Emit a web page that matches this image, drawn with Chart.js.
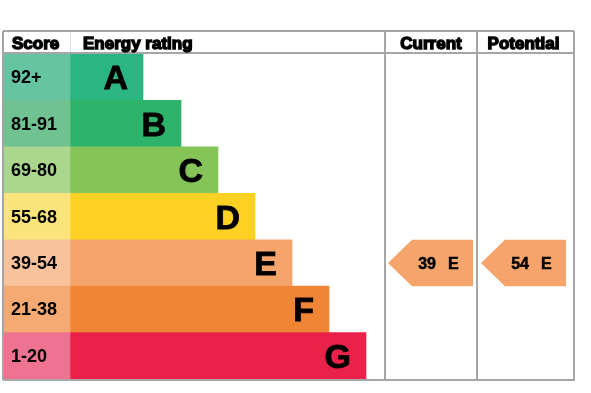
<!DOCTYPE html>
<html lang="en">
<head>
    <meta charset="UTF-8">
    <title>Energy rating</title>
    <script src="https://cdn.jsdelivr.net/npm/chart.js"></script>
    <style>
        body { margin: 0; background: #fff; }
    </style>
</head>
<body>
    <canvas id="epcChart" width="591" height="393"></canvas>

    <script>
        // bands and score ranges
        const bands = ['A', 'B', 'C', 'D', 'E', 'F', 'G'];
        const scoreRanges = ['92+', '81-91', '69-80', '55-68', '39-54', '21-38', '1-20'];
        // length of each band bar (x units)
        const bandEnds = [140, 178, 215, 252, 289, 326, 363];
        const bandColors = ['#2bb582', '#2db36a', '#86c45a', '#fdd123', '#f5a46c', '#ef8535', '#ea2249'];
        const scoreColors = ['#67c4a2', '#70c291', '#aad68e', '#fbe47b', '#f8c29c', '#f5a973', '#ee7390'];

        const currentScore = 39;
        const currentBand = 'E';
        const potentialScore = 54;
        const potentialBand = 'E';

        const FONT = '"Liberation Sans", Arial, sans-serif';
        const SCORE_COL = 67;
        const COLS = { current: [382, 474], potential: [474, 572] };
        const ARROWS = { current: [385, 470], potential: [478, 563] };

        const epcPlugin = {
            id: 'epc',
            afterDatasetsDraw(chart) {
                const ctx = chart.ctx;
                const xs = chart.scales.x, ys = chart.scales.y;
                const area = chart.chartArea;
                const rowH = (area.bottom - area.top) / bands.length;
                const top = 31, bottom = area.bottom + 1;

                ctx.save();
                // band letters and score text
                bands.forEach((b, i) => {
                    const y = ys.getPixelForValue(i);
                    ctx.fillStyle = '#000';
                    ctx.strokeStyle = '#000';
                    ctx.lineWidth = 0.8;
                    ctx.font = 'bold 34px ' + FONT;
                    ctx.textAlign = 'right';
                    ctx.textBaseline = 'alphabetic';
                    const lx = xs.getPixelForValue(bandEnds[i]) - 15;
                    ctx.fillText(b, lx, y + 12);
                    ctx.strokeText(b, lx, y + 12);
                    ctx.font = 'bold 18px ' + FONT;
                    ctx.textAlign = 'left';
                    ctx.fillText(scoreRanges[i], 11, y + 6);
                });

                // arrows
                const drawArrow = (col, score, band) => {
                    const i = bands.indexOf(band);
                    const y = ys.getPixelForValue(i);
                    const left = xs.getPixelForValue(ARROWS[col][0]);
                    const right = xs.getPixelForValue(ARROWS[col][1]);
                    const h = rowH / 2;
                    ctx.fillStyle = bandColors[i];
                    ctx.beginPath();
                    ctx.moveTo(left, y);
                    ctx.lineTo(left + 24, y - h);
                    ctx.lineTo(right, y - h);
                    ctx.lineTo(right, y + h);
                    ctx.lineTo(left + 24, y + h);
                    ctx.closePath();
                    ctx.fill();
                    ctx.fillStyle = '#000';
                    ctx.strokeStyle = '#000';
                    ctx.lineWidth = 0.5;
                    ctx.font = 'bold 16px ' + FONT;
                    ctx.textBaseline = 'alphabetic';
                    ctx.textAlign = 'right';
                    ctx.fillText(String(score), right - 37, y + 6);
                    ctx.strokeText(String(score), right - 37, y + 6);
                    ctx.textAlign = 'left';
                    ctx.fillText(band, right - 25, y + 6);
                    ctx.strokeText(band, right - 25, y + 6);
                };
                drawArrow('current', currentScore, currentBand);
                drawArrow('potential', potentialScore, potentialBand);

                // grid lines
                ctx.strokeStyle = '#a6a6a6';
                ctx.lineWidth = 2;
                const xl = area.left, xr = area.right - 1;
                const xc = xs.getPixelForValue(COLS.current[0]);
                const xp = xs.getPixelForValue(COLS.potential[0]);
                ctx.beginPath();
                ctx.moveTo(xl, top); ctx.lineTo(xr, top);
                ctx.moveTo(xl, area.top - 1); ctx.lineTo(xr, area.top - 1);
                ctx.moveTo(xl, bottom); ctx.lineTo(xr + 1, bottom);
                ctx.moveTo(xl, top); ctx.lineTo(xl, bottom);
                ctx.moveTo(xr, top); ctx.lineTo(xr, bottom);
                ctx.moveTo(xc, top); ctx.lineTo(xc, bottom);
                ctx.moveTo(xp, top); ctx.lineTo(xp, bottom);
                ctx.stroke();
                ctx.strokeStyle = '#dddddd';
                ctx.lineWidth = 1;
                const xs1 = xs.getPixelForValue(SCORE_COL);
                ctx.beginPath();
                ctx.moveTo(xs1 + 0.5, top + 1); ctx.lineTo(xs1 + 0.5, area.top - 2);
                ctx.stroke();

                // header text
                ctx.fillStyle = '#000';
                ctx.strokeStyle = '#000';
                ctx.lineWidth = 1.4;
                ctx.font = 'bold 17px ' + FONT;
                ctx.textBaseline = 'alphabetic';
                const hy = 49;
                const head = (t, x, align) => {
                    ctx.textAlign = align;
                    ctx.fillText(t, x, hy);
                    ctx.strokeText(t, x, hy);
                };
                head('Score', 12, 'left');
                head('Energy rating', 83, 'left');
                head('Current', (xc + xp) / 2, 'center');
                head('Potential', (xp + xr) / 2 - 2, 'center');
                ctx.restore();
            }
        };

        const ctx = document.getElementById('epcChart').getContext('2d');
        const epcChart = new Chart(ctx, {
            type: 'bar',
            data: {
                labels: bands,
                datasets: [{
                    label: 'Score',
                    data: bands.map(() => [0, SCORE_COL]),
                    backgroundColor: scoreColors,
                    grouped: false
                }, {
                    label: 'Energy rating',
                    data: bandEnds.map(v => [SCORE_COL, v]),
                    backgroundColor: bandColors,
                    grouped: false
                }]
            },
            options: {
                indexAxis: 'y',
                responsive: false,
                animation: false,
                barPercentage: 1,
                categoryPercentage: 1,
                layout: { padding: { left: 3, right: 16, top: 54, bottom: 14 } },
                plugins: { legend: { display: false }, tooltip: { enabled: false } },
                scales: {
                    x: { type: 'linear', min: 0, max: 572, display: false },
                    y: { display: false }
                }
            },
            plugins: [epcPlugin]
        });
    </script>
</body>
</html>
